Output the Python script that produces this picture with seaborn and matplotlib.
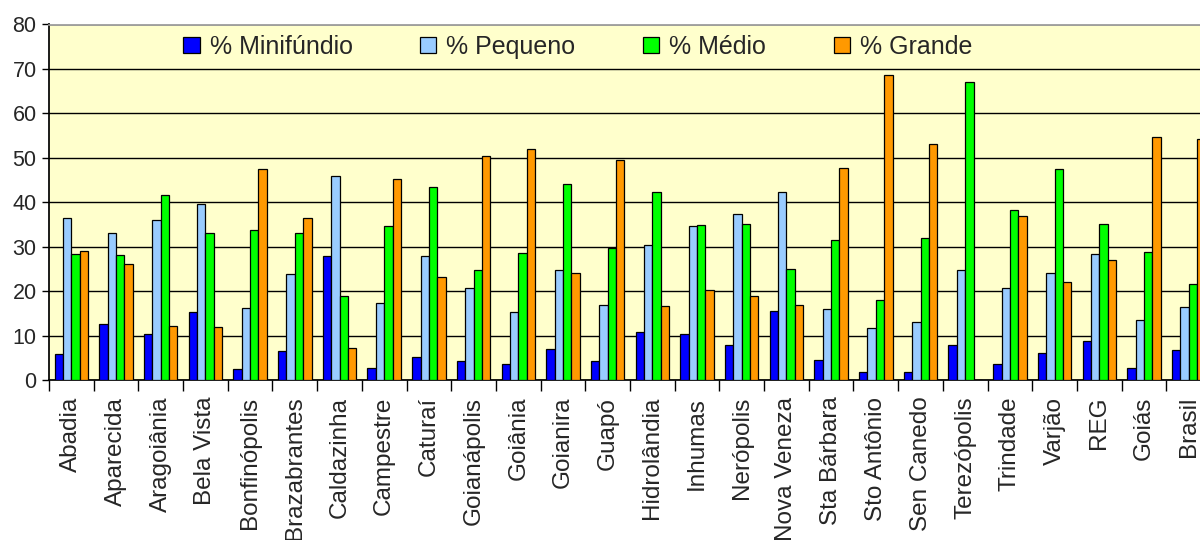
import numpy as np
import pandas as pd
import matplotlib
matplotlib.use("Agg")
import matplotlib.pyplot as plt
import seaborn as sns
from matplotlib.ticker import FixedLocator

# =========================
# Data
# =========================
municipios = ["Abadia", "Aparecida", "Aragoiânia", "Bela Vista", "Bonfinópolis",
              "Brazabrantes", "Caldazinha", "Campestre", "Caturaí", "Goianápolis",
              "Goiânia", "Goianira", "Guapó", "Hidrolândia", "Inhumas", "Nerópolis",
              "Nova Veneza", "Sta Bárbara", "Sto Antônio", "Sen Canedo", "Terezópolis",
              "Trindade", "Varjão", "REG", "Goiás", "Brasil"]

minifundio = [5.8, 12.6, 10.4, 15.3, 2.5, 6.5, 27.9, 2.7, 5.2, 4.3,
              3.6, 7.0, 4.3, 10.7, 10.4, 7.9, 15.6, 4.6, 1.8, 1.8,
              7.9, 3.6, 6.1, 8.8, 2.7, 6.7]
pequeno = [36.4, 33.0, 35.9, 39.5, 16.2, 23.8, 46.0, 17.4, 27.9, 20.8,
           15.3, 24.8, 16.9, 30.3, 34.6, 37.3, 42.2, 15.9, 11.6, 13.1,
           24.8, 20.8, 24.1, 28.4, 13.4, 16.5]
medio = [28.4, 28.1, 41.6, 33.0, 33.7, 33.0, 19.0, 34.6, 43.5, 24.8,
         28.5, 44.2, 29.7, 42.2, 34.9, 35.2, 25.0, 31.6, 18.1, 31.9,
         67.1, 38.2, 47.5, 35.2, 28.7, 21.7]
grande = [29.1, 26.0, 12.2, 11.9, 47.5, 36.4, 7.3, 45.3, 23.2, 50.3,
          52.0, 24.1, 49.6, 16.6, 20.2, 19.0, 16.8, 47.8, 68.6, 53.0,
          0.0, 37.0, 22.0, 26.9, 54.6, 54.2]

series_names = ["% Minifúndio", "% Pequeno", "% Médio", "% Grande"]
series_colors = ["#0000FF", "#99CCFF", "#00FF00", "#FF9900"]

# =========================
# Long table for seaborn
# =========================
df = pd.DataFrame({
    "Municipio": municipios * 4,
    "Serie": np.repeat(series_names, len(municipios)),
    "Valor": minifundio + pequeno + medio + grande,
})

sns.set_theme(style="white")
plt.rcParams["font.family"] = ["Liberation Sans", "DejaVu Sans"]

fig = plt.figure(figsize=(12, 5.4), dpi=100)
# plot area runs a little past the right edge, as in the reference
ax = fig.add_axes([49 / 1200, 160 / 540, 1162 / 1200, 355.5 / 540])
ax.set_facecolor("#FFFFCC")

sns.barplot(data=df, x="Municipio", y="Valor", hue="Serie", order=municipios,
            hue_order=series_names, palette=series_colors, width=0.75,
            edgecolor="black", linewidth=0.9, saturation=1, ax=ax, zorder=3)

# =========================
# Axes styling
# =========================
ax.set_xlim(-0.5, len(municipios) - 0.5)
ax.set_ylim(0, 80)
ax.set_yticks(range(0, 81, 10))
ax.grid(axis="y", color="black", linewidth=1, zorder=0)
ax.set_axisbelow(True)
ax.set_xlabel("")
ax.set_ylabel("")

ax.spines["left"].set_color("black")
ax.spines["bottom"].set_color("black")
ax.spines["top"].set_color("#999999")
ax.spines["right"].set_visible(False)

ax.tick_params(axis="y", left=True, length=5, width=1, color="black",
               labelsize=15.5, pad=4)
ax.tick_params(axis="x", which="major", length=0, labelsize=17.5,
               rotation=90, pad=12)
ax.xaxis.set_minor_locator(FixedLocator(np.arange(-0.5, len(municipios), 1)))
ax.tick_params(axis="x", which="minor", bottom=True, length=8, width=1,
               color="black")

# =========================
# Legend
# =========================
handles, labels = ax.get_legend_handles_labels()
ax.legend(handles, labels, loc="center", bbox_to_anchor=(0.455, 0.937),
          ncol=4, frameon=False, fontsize=18, handlelength=0.65,
          handleheight=0.65, handletextpad=0.4, columnspacing=2.7)

fig.savefig("out.png", dpi=100, facecolor="white")
